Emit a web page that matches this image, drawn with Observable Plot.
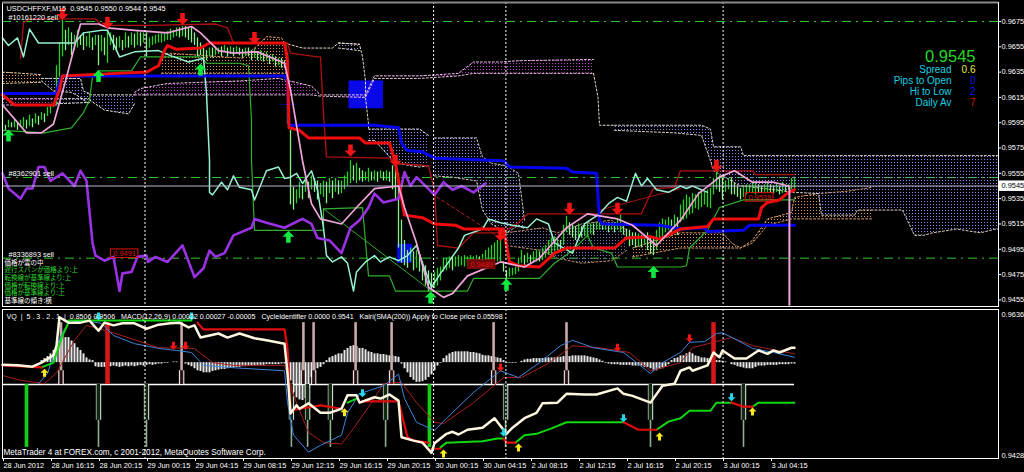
<!DOCTYPE html>
<html><head><meta charset="utf-8">
<script src="https://cdn.jsdelivr.net/npm/d3@7"></script>
<script src="https://cdn.jsdelivr.net/npm/@observablehq/plot@0.6"></script>
<style>html,body{margin:0;padding:0;background:#000;overflow:hidden;width:1024px;height:472px}svg{display:block}</style>
</head><body><div id="top"></div><div id="bottom"></div>
<script>
// All series: bar number on the M15 axis, value in pips above 0.9400.
const base = 0.94, pip = 1e-4;
const tickLabels = ["28 Jun 2012","28 Jun 16:15","28 Jun 20:15","29 Jun 00:15","29 Jun 04:15","29 Jun 08:15","29 Jun 12:15","29 Jun 16:15","29 Jun 20:15","30 Jun 00:15","30 Jun 04:15","2 Jul 08:15","2 Jul 12:15","2 Jul 16:15","2 Jul 20:15","3 Jul 00:15","3 Jul 04:15"];
const priceTicks = [0.9675,0.9655,0.9635,0.9615,0.9595,0.9575,0.9555,0.9535,0.9515,0.9495,0.9475,0.9455];
const subTicks = [0.9636,0.9428];
const sessionBars = [47.5,143.7,167.8,240.2];

const candleHigh = [207,193,197,195,198,195,197,199,197,201,198,202,200,203,202,207,209,211,240,258,276,268,270,266,264,268,264,266,263,266,262,264,264,264,262,268,266,264,262,263,260,266,263,266,265,268,266,266,266,262,263,264,265,266,266,267,269,268,270,270,271,271,270,270,266,262,258,254,252,254,254,255,254,255,256,254,255,254,255,254,253,254,254,252,253,251,252,250,251,248,249,247,246,246,244,250,189,144,142,148,145,151,148,153,151,149,147,149,148,151,149,151,149,149,153,156,165,161,163,159,157,156,159,156,157,156,157,156,157,156,161,165,155,118,102,94,96,93,94,90,85,82,78,76,77,80,81,88,88,89,89,89,90,89,90,89,90,89,90,89,91,94,96,98,100,102,104,85,78,80,80,81,88,94,90,92,90,93,94,93,96,98,102,104,105,104,102,114,121,116,114,113,115,113,114,115,115,115,116,116,115,115,116,116,116,119,122,114,111,110,108,108,107,106,106,108,105,104,110,116,119,118,120,118,122,120,130,134,138,136,139,138,140,142,140,142,143,151,156,153,151,149,151,151,147,145,143,145,146,146,147,148,146,145,146,147,146,145,147,145,148,145,146,151,152];
const candleLow = [189,189,191,191,191,189,192,191,190,192,191,194,193,197,195,200,202,207,209,231,247,252,256,248,252,254,256,252,255,254,252,256,240,251,248,242,256,252,251,254,252,254,254,256,254,256,255,258,247,254,256,257,258,258,259,260,260,262,263,262,263,262,260,258,256,247,248,243,244,247,246,248,249,247,251,247,249,247,249,248,246,248,247,244,246,244,244,243,244,241,243,239,240,238,238,194,130,126,131,135,134,140,135,142,140,134,138,136,131,139,135,140,138,139,142,145,147,149,147,149,148,149,148,149,149,148,151,149,149,148,142,134,96,84,82,80,85,78,80,77,70,66,61,62,64,66,70,77,78,80,78,81,81,82,81,82,82,83,82,82,84,85,85,86,86,85,85,77,72,73,74,75,77,84,82,84,84,84,85,85,86,88,90,91,93,94,94,98,108,106,104,102,104,104,105,104,107,106,110,110,110,110,108,110,108,110,108,106,102,97,98,96,97,96,98,94,91,90,94,102,104,108,110,106,110,106,116,118,119,122,123,127,126,128,130,128,127,138,142,140,134,140,142,138,138,136,134,136,138,140,139,138,139,139,140,140,139,139,140,138,139,140,142,142,142];

const kijun = [[6,246],[7,274],[9,277],[31,277],[33,272],[49,272],[71,273],[75,270],[77,258],[95,258],[96,250],[105,247],[106,247],[107,202],[108,168],[129,167],[131,163],[142,161],[144,142],[145,98],[152,96],[157,108],[165,108],[168,110],[172,116],[175,123],[213,123],[215,134],[217,143],[224,144],[226,157],[250,157],[251,154],[264,154]];
const blueLine = [[0,218],[18,218],[19,228],[20,232],[94,232],[95,228],[95.5,193],[124,193],[132,191],[133,179],[135,173],[140,172],[144,167],[167,165],[169,160],[188,159],[190,156],[198,155],[199,118],[200,115],[219,114],[226,111],[234,112],[235,109],[247,110],[249,114],[264,114]];
const redLine = [[0,217],[2,213],[4,209],[17,209],[19,221],[20,232],[38,234],[48,235],[52,240],[54,252],[55,256],[58,253],[66,254],[69,258],[94,258],[95,244],[95.5,191],[99,189],[102,183],[119,183],[121,179],[129,179],[131,163],[134,122],[140,120],[144,115],[151,114],[154,111],[167,111],[169,85],[172,82],[179,81],[184,92],[188,96],[204,96],[208,104],[216,105],[219,103],[226,111],[235,113],[237,119],[252,119],[253,128],[255,132],[259,134],[262,140],[264,142]];
const chikou = [[0,262],[2,256],[5,262],[7,247],[9,269],[12,258],[18,258],[24,258],[27,266],[33,268],[35,268],[39,247],[44,251],[52,252],[56,248],[62,243],[67,246],[68,218],[69,165],[69,140],[70,138],[73,148],[75,142],[77,153],[79,144],[83,142],[84,134],[88,157],[92,160],[94,151],[96,152],[98,155],[100,147],[103,157],[105,142],[107,112],[108,90],[110,85],[113,89],[115,84],[117,62],[118,77],[121,85],[124,90],[126,85],[129,89],[132,86],[135,90],[138,98],[140,84],[143,65],[146,76],[152,96],[154,106],[160,111],[162,119],[166,116],[170,114],[175,112],[178,119],[182,115],[184,100],[190,92],[194,115],[199,123],[202,131],[205,136],[208,133],[211,155],[213,145],[215,151],[218,142],[222,140],[226,145],[228,143],[230,145],[235,140]];
const tenkan = [[0,189],[14,187],[23,191],[27,203],[29,213],[30,231],[32,236],[43,236],[46,247],[66,247],[68,242],[79,242],[82,240],[83,197],[83,165],[84,110],[107,110],[107,127],[120,128],[122,74],[129,74],[131,62],[155,62],[157,72],[179,72],[184,84],[190,94],[195,106],[197,96],[203,92],[205,81],[226,81],[228,82],[229,96],[235,110],[239,128],[247,134],[264,134]];
const pinkLine = [[0,209],[8,187],[13,187],[17,194],[21,228],[26,273],[32,273],[35,270],[44,268],[55,266],[63,271],[66,266],[72,252],[77,250],[85,251],[94,242],[96,221],[100,165],[103,131],[106,119],[113,115],[118,128],[124,143],[132,145],[134,128],[138,100],[142,65],[147,57],[150,60],[155,74],[166,85],[174,81],[179,88],[188,112],[195,123],[205,119],[210,114],[218,98],[226,118],[232,139],[239,152],[244,157],[250,148],[257,148],[262,145]];
const pinkDrop = [262.3,145,50];
const purpleLine = [[0,155],[2,143],[4,139],[6,135],[8,143],[10,143],[12,160],[14,160],[16,149],[20,155],[24,145],[26,157],[28,149],[30,100],[31,90],[34,86],[37,89],[39,62],[40,76],[43,77],[45,89],[48,90],[48.5,85],[51,89],[55,85],[60,98],[64,73],[67,80],[69,94],[71,89],[74,92],[77,106],[83,112],[84,119],[88,116],[94,112],[100,119],[103,115],[105,104],[109,102],[113,92],[116,112],[119,118],[122,128],[124,139],[127,132],[132,135],[134,156],[136,145],[138,152],[144,138],[147,148],[150,142],[153,145],[157,140],[161,147]];
const trendGreen = [[107,127],[143,62]];
const trendRed = [[143,139],[166,104]];
const trendDark = [[199,126],[226,143]];
const spanLink = [[94,258],[100,254],[110,254],[112,258],[119,257],[120,247],[121,228],[121,215],[122,194],[122,190]];
const spanDrop = [[197,234],[198.5,215],[199,193],[204,193]];

// [bar, upper span, lower span]
const sandA = [[0,235,226],[13,233,227]];
const sandB = [[53,244,234],[55,250,234],[80,246,234],[85,256,234],[88,263,234],[93,262,234],[95,254,234]];
const sandC = [[210,96,89],[226,108,96],[240,108,96],[243,100,96],[246,96,96],[250,102,100],[255,119,114],[263,124,119],[264,136,119],[272,139,119],[282,141,119],[290,144,119]];
const lilacA = [[13,230,228],[17,230,220],[23,230,219],[26,230,215],[27,220,213],[29,218,210]];
const lilacB = [[18,214,210],[29,214,211]];
const lilacC = [[29,217,213],[34,217,205],[42,217,202],[44,217,210]];
const lilacD = [[112,258,254],[119,257,252]];
const lilacE = [[122,190,181],[124,190,181],[131,190,163],[139,190,160],[142,185,161]];
const lilacF = [[144,183,153],[150,183,152],[158,183,149],[160,168,126],[163,163,115],[168,161,108],[172,155,114],[174,118,111]];
const lilacG = [[168,108,98],[180,112,94],[185,108,88],[193,115,84],[203,118,86],[208,110,94]];
const lilacH = [[204,193,189],[224,193,187],[233,193,185],[236,190,165],[237,176,157],[246,176,145],[247,169,145],[264,169,140],[272,169,139],[273,169,122],[284,169,122],[285,169,126],[300,169,126],[303,169,111],[304,169,106],[307,169,106],[310,169,108],[318,169,111],[326,169,108],[331,169,111],[332,169,111]];
const plumA = [[0,214,209],[18,214,209]];
const plumB = [[44,219,217],[46,222,217],[55,226,217],[79,228,217],[92,230,217],[103,224,217],[106,217,216],[121,217,215],[124,232,230],[139,232,230],[152,234,232],[157,243,234],[166,243,234],[172,244,234],[197,245,234]];

const blueBlocks = [[92.5,98,209,209.5],[115.5,127,206,228],[131.7,136.7,84,99]];
const priceLines = [275,151.7,88];
const currentLine = 145;

const redArrowsTop = [[20,281],[35,274],[60,277],[84,262],[116,173],[131,165],[166,106],[189,127],[205,127],[238,161]];
const greenArrowsTop = [[2,185],[32,232],[66,237],[95.3,105],[142.7,57],[168,67],[217,77]];
const boxLabels = [[36.3,91.5,"0.9491","none","#e01010"],[155.3,83,"0.9489","#6a0808","#8a1010"],[248,136,"0.9538","none","#e01010"]];

const vqWhite = [[0,162],[5,161],[10,159],[13,165],[17,176],[18,190],[19,232],[22,224],[26,224],[29,227],[32,212],[34,224],[37,220],[40,223],[44,223],[48,215],[52,221],[56,223],[59,224],[62,217],[64,220],[66,202],[72,208],[75,202],[79,208],[84,201],[88,198],[94,193],[95,150],[96,90],[98,102],[99,97],[102,105],[106,91],[109,91],[113,97],[115,117],[118,117],[119,106],[124,114],[126,112],[129,118],[132,109],[133,55],[137,50],[140,47],[143,32],[144,46],[148,60],[150,63],[152,59],[155,66],[160,69],[164,83],[168,60],[170,69],[174,83],[178,91],[180,105],[185,106],[188,119],[194,118],[198,118],[205,127],[207,119],[210,116],[216,106],[220,131],[224,134],[226,153],[229,158],[230,153],[235,161],[237,180],[239,173],[240,183],[244,171],[248,171],[252,183],[255,178],[257,183],[259,180],[263,187],[264,187]];
const vqRed = [[[0,161],[13,158]],[[65,224],[67,214],[94,214],[95,186],[96,94],[99,97],[106,102],[113,97]],[[120,108],[132,108],[135,55],[137,50],[142,47]],[[143,38],[146,38]],[[167,53],[168,47],[171,47]],[[207,77],[212,66],[218,66]],[[243,106],[247,100],[250,100]]];
const vqGreen = [[[13,158],[17,165],[20,205],[22,224],[22,227],[63,227]],[[115,106],[118,112]],[[146,40],[148,47],[160,49],[165,53],[167,53]],[[171,47],[174,58],[178,60],[183,68],[188,77],[207,77]],[[218,66],[222,78],[226,83],[229,94],[236,94],[238,106],[243,106]],[[250,100],[252,106],[264,106]]];
const macdBlue = [[12,134],[15,149],[18,190],[20,209],[22,224],[27,227],[33,223],[37,205],[44,193],[52,186],[58,183],[63,180],[67,161],[75,158],[94,153],[95,106],[97,58],[102,33],[106,43],[113,58],[115,91],[119,119],[127,131],[132,148],[134,112],[138,77],[144,65],[148,83],[157,121],[166,153],[172,143],[179,165],[186,190],[190,198],[197,187],[207,180],[216,149],[220,165],[226,180],[229,195],[234,196],[238,208],[240,209],[245,198],[250,186],[257,180],[264,173]];
const macdSignal = [[0,146],[6,139],[14,134],[18,150],[24,198],[28,220],[37,209],[52,187],[64,186],[70,165],[77,161],[94,161],[97,117],[102,62],[107,47],[113,45],[117,68],[123,106],[127,134],[133,136],[138,106],[144,77],[147,75],[157,106],[167,143],[173,143],[182,164],[190,190],[199,187],[209,180],[216,153],[226,165],[230,187],[243,202],[250,190],[264,178]];
const histStart = 13, histBase = 165;
const histValues = [3,6,9,13,18,25,32,40,37,37,32,28,22,18,13,7,4,3,-6,-7,-7,-7,-6,-6,-5,-6,-7,-6,-5,-6,-5,-6,-5,-4,-5,-4,-3,-4,-3,-2,-2,-1,-1,0,1,1,0,0,-2,-4,-6,-9,-12,-13,-15,-15,-15,-13,-12,-11,-10,-10,-9,-8,-8,-7,-7,-6,-6,-5,-5,-5,-4,-4,-4,-3,-3,-3,-3,-3,-2,-2,-5,-27,-44,-52,-55,-56,-53,-38,-22,-15,-9,-7,-3,3,7,9,11,13,13,18,21,24,25,24,21,21,19,16,15,13,13,12,12,11,10,10,9,8,-2,-9,-15,-22,-26,-29,-29,-28,-26,-22,-18,-12,-5,-1,6,10,13,15,16,16,16,16,16,15,15,14,13,11,10,10,9,8,7,6,3,-1,-1,-1,-1,0,2,4,5,5,6,6,6,6,7,7,7,7,8,8,9,9,9,10,10,10,10,10,9,8,7,6,4,2,-1,-2,-3,-3,-3,-4,-4,-4,-4,-5,-5,-5,-5,-7,-7,-9,-12,-12,-10,-9,-7,-3,3,6,7,10,10,13,15,13,10,9,7,7,6,5,4,3,3,2,1,0,-3,-4,-6,-7,-8,-9,-9,-9,-7,-5,-5,-5,-4,-4,-4,-4,-3,-3,-3,-3,-2,-2];
const cycleBase = 132.7, cycleUpTip = 224, cycleDownTip = 40, cycleUpShoulder = 153, cycleDownShoulder = 80;
const cycleUpGray = [19.5,59.7,100.3,103.7,117.7,129.7,163.7,188];
const cycleUpRed = [35,237];
const cycleDownGray = [32,48,96.3,101.7,109.3,127.7,167.7,216,247];
const cycleDownGreen = [8,142.3];
const redArrowsSub = [[57,190],[61,190],[166,158],[205,187],[229,201]];
const yellowArrowsSub = [[14,150],[114,92],[147,31],[172,40],[219,56],[250,93]];
const cyanArrowsSub = [[120,120],[167,62],[207,83],[243,114],[32,233],[63,233]];

const signalLines = [["価格が雲の中","#fff",260],["遅行スパンが価格より:上","#2fd82f",267.7],["転換線が基準線より:上","#2fd82f",275.4],["価格が転換線より:上","#2fd82f",283.1],["価格が基準線より:上","#2fd82f",290.8],["基準線の傾き:横","#fff",298.5]];
const tradeNotes = [["USDCHFFXF,M15  0.9545 0.9550 0.9544 0.9545",4,6],["#10161220 sell",6,15],["#8362901 sell",6,171],["#8336893 sell",6,252]];

// ---- helpers
const price = v => base + v * pip;
const pts = arr => arr.map(([b, v]) => ({b, p: price(v)}));
const sans = "Liberation Sans, Arial, sans-serif";
const note = (s, dx, dy, fill, size, extra = {}) => Plot.text([s], {text: d => d, frameAnchor: "top-left", dx, dy, fill, fontSize: size, fontFamily: sans, textAnchor: "start", lineAnchor: "middle", ...extra});
const cloud = (rows, tone, edge) => {
  const t = rows.map(([b, h, l]) => ({b, h: price(h), l: price(l)}));
  return [
    Plot.areaY(t, {x: "b", y1: "l", y2: "h", fill: `url(#${tone})`}),
    Plot.line(t, {x: "b", y: "h", stroke: edge, strokeWidth: 1, strokeDasharray: "2,2"}),
    Plot.line(t, {x: "b", y: "l", stroke: edge, strokeWidth: 1, strokeDasharray: "2,2"})
  ];
};
const lineOf = (arr, stroke, strokeWidth, extra = {}) => Plot.line(pts(arr), {x: "b", y: "p", stroke, strokeWidth, strokeLinejoin: "round", ...extra});
const arrowDown = {draw(c, size){const s = Math.sqrt(size / Math.PI); c.moveTo(-s*.38,-s); c.lineTo(s*.38,-s); c.lineTo(s*.38,0); c.lineTo(s,0); c.lineTo(0,s); c.lineTo(-s,0); c.lineTo(-s*.38,0); c.closePath();}};
const arrowUp = {draw(c, size){const s = Math.sqrt(size / Math.PI); c.moveTo(-s*.38,s); c.lineTo(s*.38,s); c.lineTo(s*.38,0); c.lineTo(s,0); c.lineTo(0,-s); c.lineTo(-s,0); c.lineTo(-s*.38,0); c.closePath();}};
const arrows = (arr, symbol, fill, r) => Plot.dot(pts(arr), {x: "b", y: "p", symbol, fill, r, stroke: "none"});
const sessions = () => Plot.ruleX(sessionBars, {stroke: "#fff", strokeWidth: 1, strokeDasharray: "2,2"});
const xDomain = [0, 332];

const candles = candleHigh.map((h, i) => ({b: i, h: price(h), l: price(candleLow[i]), up: i === 0 || h + candleLow[i] >= candleHigh[i-1] + candleLow[i-1]}));

// ---- main window
const main = Plot.plot({
  width: 1024, height: 307, marginLeft: 2, marginRight: 26, marginTop: 2, marginBottom: 1,
  style: {background: "#000", color: "#fff"},
  x: {domain: xDomain, axis: null},
  y: {domain: [price(49.8), price(290)], axis: null},
  marks: [
    Plot.ruleY(priceLines.map(price), {stroke: "#32c832", strokeWidth: 1, strokeDasharray: "9,5,2,5"}),
    Plot.rect(blueBlocks, {x1: d => d[0], x2: d => d[1], y1: d => price(d[2]), y2: d => price(d[3]), fill: "#0808e8"}),
    ...cloud(sandA, "sand", "#e8c8a0"), ...cloud(sandB, "sand", "#d89a68"), ...cloud(sandC, "sand", "#d89a68"),
    ...cloud(lilacA, "lilac", "#e8e4e0"), ...cloud(lilacB, "lilac", "#e8e4e0"), ...cloud(lilacC, "lilac", "#e8e4e0"),
    ...cloud(lilacD, "lilac", "#e0d8d0"), ...cloud(lilacE, "lilac", "#e0d8e0"), ...cloud(lilacF, "lilac", "#d0c8d0"),
    ...cloud(lilacG, "dim", "#c09070"), ...cloud(lilacH, "lilac", "#e0d0c8"),
    ...cloud(plumA, "plum", "#e8b0e8"), ...cloud(plumB, "plum", "#e8c0e0"),
    lineOf(spanLink, "#e8dcc8", 1, {strokeDasharray: "2,2"}),
    lineOf(spanDrop, "#e8dcc8", 1, {strokeDasharray: "2,2"}),
    Plot.ruleX(candles, {x: "b", y1: "l", y2: "h", stroke: d => d.up ? "#26d026" : "#8cf08c", strokeWidth: 1.3}),
    lineOf(trendGreen, "#2fa82f", 1),
    lineOf(trendRed, "#c02020", 1, {strokeDasharray: "3,3"}),
    lineOf(trendDark, "#a01414", 1),
    lineOf(tenkan, "#2fb02f", 1.2),
    lineOf(kijun, "#b01010", 1.3),
    lineOf(chikou, "#98f0d4", 1.5),
    lineOf(purpleLine, "#9a32e4", 2.6),
    lineOf(blueLine, "#0404f0", 3),
    lineOf(redLine, "#f00c0c", 3),
    Plot.ruleY([price(currentLine)], {stroke: "#b8b8d4", strokeWidth: 1}),
    lineOf(pinkLine, "#f0a4dc", 1.7),
    Plot.ruleX([pinkDrop[0]], {y1: price(pinkDrop[1]), y2: price(pinkDrop[2]), stroke: "#f0a4dc", strokeWidth: 2}),
    sessions(),
    arrows(redArrowsTop, arrowDown, "#f01414", 6),
    arrows(greenArrowsTop, arrowUp, "#10e840", 6),
    Plot.rect(boxLabels, {x1: d => d[0] - 0.2, x2: d => d[0] + 9, y1: d => price(d[1] - 3.4), y2: d => price(d[1] + 3.4), fill: d => d[3], stroke: d => d[4], strokeWidth: 1}),
    Plot.text(boxLabels, {x: d => d[0] + 4.4, y: d => price(d[1]), text: d => d[2], fill: "#e01010", fontSize: 7.4, fontFamily: sans}),
    ...tradeNotes.map(([s, dx, dy]) => note(s, dx, dy, "#fff", 7.3)),
    ...signalLines.map(([s, c, dy]) => note(s, 2, dy, c, 6.5, {fontFamily: "Noto Sans CJK JP"})),
    Plot.text(["0.9545"], {text: d => d, frameAnchor: "top-right", dx: -23, dy: 54, fill: "#25d825", fontSize: 16.5, fontFamily: sans, textAnchor: "end", lineAnchor: "middle"}),
    ...[["Spread", 67], ["Pips to Open", 78], ["Hi to Low", 89], ["Daily Av", 100]].map(([s, dy]) => Plot.text([s], {text: d => d, frameAnchor: "top-right", dx: -47, dy, fill: "#18d0e0", fontSize: 10, fontFamily: sans, textAnchor: "end", lineAnchor: "middle"})),
    ...[["0.6", "#e8e840", 67], ["0", "#1010e0", 78], ["2", "#1010e0", 89], ["7", "#d81010", 100]].map(([s, c, dy]) => Plot.text([s], {text: d => d, frameAnchor: "top-right", dx: -23, dy, fill: c, fontSize: 10, fontFamily: sans, textAnchor: "end", lineAnchor: "middle"})),
    Plot.axisY({anchor: "right", ticks: priceTicks, tickFormat: ".4f", tickSize: 2, tickPadding: 1, fontSize: 7.4, fontFamily: sans, label: null, color: "#fff"}),
    Plot.rect([0], {x1: 332.3, x2: 341, y1: price(140.7), y2: price(149), fill: "#fff"}),
    Plot.text(["0.9545"], {text: d => d, x: 333, y: price(145), fill: "#000", fontSize: 7.4, fontFamily: sans, textAnchor: "start"}),
    Plot.frame({stroke: "#fff", strokeWidth: 1}),
    Plot.ruleY([price(290)], {stroke: "#8a8a8a", strokeWidth: 2})
  ]
});

// ---- indicator window
const segs = list => list.flatMap((s, i) => s.map(([b, v]) => ({b, p: price(v), z: i})));
const hist = histValues.map((h, i) => ({b: histStart + i, y1: price(histBase), y2: price(histBase + h)}));
const sub = Plot.plot({
  width: 1024, height: 165, marginLeft: 2, marginRight: 26, marginTop: 2, marginBottom: 14,
  style: {background: "#000", color: "#fff"},
  x: {domain: xDomain, axis: null},
  y: {domain: [price(23.6), price(243.4)], axis: null},
  marks: [
    Plot.ruleX(hist, {x: "b", y1: "y1", y2: "y2", stroke: "#e8e8e8", strokeWidth: 2}),
    Plot.ruleY([price(cycleBase)], {x1: 0, x2: 264, stroke: "#fff", strokeWidth: 1.4}),
    Plot.ruleX(cycleUpGray, {y1: price(cycleBase), y2: price(cycleUpTip), stroke: "#c8a8a8", strokeWidth: 2.6}),
    Plot.ruleX(cycleUpGray, {y1: price(cycleBase), y2: price(cycleUpShoulder), stroke: "#2a0a0a", strokeWidth: 2.6}),
    Plot.ruleX(cycleUpGray, {y1: price(cycleBase), y2: price(cycleUpShoulder), dx: -2.2, stroke: "#fff", strokeWidth: 1}),
    Plot.ruleX(cycleUpGray, {y1: price(cycleBase), y2: price(cycleUpShoulder), dx: 2.2, stroke: "#fff", strokeWidth: 1}),
    Plot.ruleX(cycleUpRed, {y1: price(cycleBase), y2: price(cycleUpTip), stroke: "#d81818", strokeWidth: 4.5}),
    Plot.ruleX(cycleDownGray, {y1: price(cycleBase), y2: price(cycleDownTip), stroke: "#8fb08f", strokeWidth: 1.6}),
    Plot.ruleX(cycleDownGray, {y1: price(cycleBase), y2: price(cycleDownShoulder), stroke: "#0c2a0c", strokeWidth: 3}),
    Plot.ruleX(cycleDownGray, {y1: price(cycleBase), y2: price(cycleDownShoulder), dx: 2.2, stroke: "#f0f0f0", strokeWidth: 1}),
    Plot.ruleX(cycleDownGray, {y1: price(cycleBase), y2: price(cycleDownShoulder), dx: -2.2, stroke: "#a0a0a0", strokeWidth: 1}),
    Plot.ruleX(cycleDownGreen, {y1: price(cycleBase), y2: price(cycleDownTip), stroke: "#14d014", strokeWidth: 3.6}),
    lineOf(macdSignal, "#a82020", 1),
    lineOf(macdBlue, "#3c84dc", 1),
    Plot.line(segs(vqGreen), {x: "b", y: "p", z: "z", stroke: "#10d810", strokeWidth: 2}),
    Plot.line(segs(vqRed), {x: "b", y: "p", z: "z", stroke: "#e00c0c", strokeWidth: 2.2}),
    lineOf(vqWhite, "#fff6e0", 2.5),
    sessions(),
    arrows(redArrowsSub, arrowDown, "#f01414", 4),
    arrows(yellowArrowsSub, arrowUp, "#f8e820", 4),
    arrows(cyanArrowsSub, arrowDown, "#20d8e8", 4),
    note("VQ  |  5 . 3 . 2 . 1  |  0.8506 0.9506   MACD(12,26,9) 0.00022 0.00027 -0.00005   CycleIdentifier 0.0000 0.9541   Kairi(SMA(200)) Apply to Close price 0.05598", 4, 7, "#fff", 7.1),
    note("MetaTrader 4 at FOREX.com, c 2001-2012, MetaQuotes Software Corp.", 1, 143, "#fff", 8.2),
    Plot.axisX({anchor: "bottom", ticks: tickLabels.map((_, i) => i * 16), tickFormat: i => tickLabels[i / 16], tickSize: 3, tickPadding: 1, textAnchor: "start", dx: 1, fontSize: 7.4, fontFamily: sans, label: null, color: "#fff"}),
    Plot.axisY({anchor: "right", ticks: subTicks, tickFormat: ".4f", tickSize: 0, tickPadding: 3, fontSize: 7.4, fontFamily: sans, label: null, color: "#fff"}),
    Plot.frame({stroke: "#fff", strokeWidth: 1})
  ]
});

// dot patterns for the Ichimoku cloud
const addPatterns = svg => {
  const defs = d3.select(svg).insert("defs", ":first-child");
  [["sand", "#d8935c"], ["lilac", "#9088f0"], ["plum", "#b840c8"], ["dim", "#7c70b8"]].forEach(([id, c]) => {
    const p = defs.append("pattern").attr("id", id).attr("width", 3).attr("height", 3).attr("patternUnits", "userSpaceOnUse");
    p.append("rect").attr("width", 1).attr("height", 1).attr("fill", c);
  });
};
addPatterns(main);
document.getElementById("top").append(main);
document.getElementById("bottom").append(sub);
</script>
</body></html>
